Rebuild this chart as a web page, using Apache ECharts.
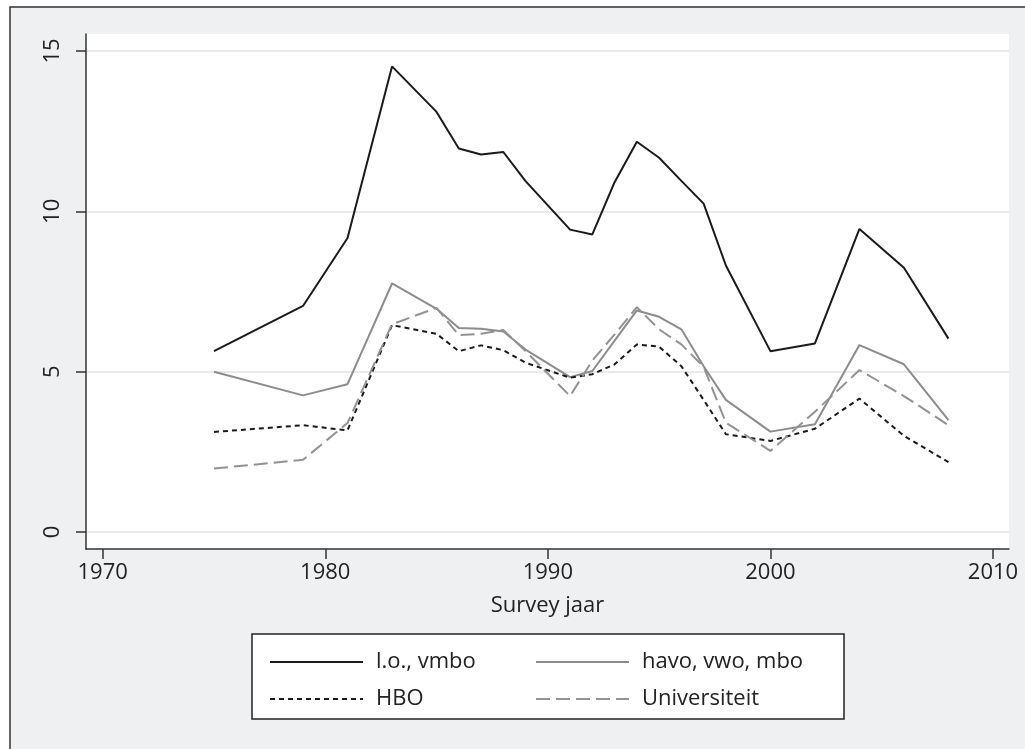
<!DOCTYPE html>
<html>
<head>
<meta charset="utf-8">
<script src="https://cdn.jsdelivr.net/npm/echarts@6/dist/echarts.min.js"></script>
<style>html,body{margin:0;padding:0;background:#fff;}#c{width:1025px;height:749px;}</style>
</head>
<body>
<div id="c"></div>
<script>
const years = [1975,1979,1981,1983,1985,1986,1987,1988,1989,1991,1992,1993,1994,1995,1996,1997,1998,2000,2002,2004,2006,2008];
const loVmbo = [5.64,7.05,9.17,14.52,13.10,11.96,11.77,11.85,10.94,9.43,9.28,10.91,12.17,11.67,10.95,10.24,8.31,5.64,5.88,9.45,8.24,6.03];
const havoVwoMbo = [5.00,4.26,4.61,7.75,6.96,6.36,6.34,6.25,5.69,4.83,5.02,5.97,6.91,6.71,6.32,5.17,4.12,3.13,3.36,5.83,5.23,3.49];
const hbo = [3.12,3.33,3.17,6.45,6.18,5.64,5.82,5.67,5.28,4.81,4.92,5.23,5.85,5.78,5.17,4.12,3.05,2.84,3.22,4.16,3.00,2.18];
const universiteit = [1.98,2.25,3.40,6.48,6.99,6.14,6.18,6.30,5.64,4.24,5.35,6.16,7.01,6.32,5.85,5.15,3.41,2.53,3.75,5.05,4.24,3.33];
const seriesNames = ['l.o., vmbo','havo, vwo, mbo','HBO','Universiteit'];
const xTicks = [1970,1980,1990,2000,2010];
const yTicks = [0,5,10,15];
const xTitle = 'Survey jaar';

const FONT = '"Open Sans", "Noto Sans", sans-serif';
const pair = arr => years.map((y,i)=>[y,arr[i]]);
const chart = echarts.init(document.getElementById('c'), null, {renderer:'canvas'});
const mk = (name, data, color, type) => ({
  name, type:'line', data: pair(data), symbol:'none', smooth:false,
  lineStyle:{color, width:2, type}, itemStyle:{color}, emphasis:{disabled:true}, z:3
});
const legendBase = {
  orient:'vertical', top:644, itemWidth:93, itemHeight:14, itemGap:11, selectedMode:false,
  itemStyle:{opacity:0},
  textStyle:{fontFamily:FONT, fontSize:22, color:'#222', lineHeight:26, padding:[0,0,0,8]}
};
chart.setOption({
  animation:false,
  backgroundColor:'#ffffff',
  graphic:[
    {type:'rect', shape:{x:10,y:7,width:1040,height:770}, style:{fill:'#eff0f2', stroke:'#333', lineWidth:1.5}, z:-10},
    {type:'rect', shape:{x:252,y:634,width:592,height:85}, style:{fill:'#ffffff', stroke:'#222', lineWidth:1.5}, z:-5}
  ],
  grid:{left:86, top:34, right:16, bottom:200, show:true, backgroundColor:'#ffffff', borderWidth:0},
  xAxis:{
    type:'value', min:1969.25, max:2010.72,
    name:xTitle, nameLocation:'middle', nameGap:46,
    nameTextStyle:{fontFamily:FONT, fontSize:22, color:'#222'},
    axisLine:{show:true, onZero:false, lineStyle:{color:'#333', width:1.5}},
    axisTick:{show:true, length:10, lineStyle:{color:'#333', width:1.5}, customValues:xTicks},
    axisLabel:{fontFamily:FONT, fontSize:22, color:'#222', margin:13, customValues:xTicks, formatter:v=>String(v)},
    splitLine:{show:false}
  },
  yAxis:{
    type:'value', min:-0.53, max:15.53,
    axisLine:{show:true, onZero:false, lineStyle:{color:'#333', width:1.5}},
    axisTick:{show:true, length:10, lineStyle:{color:'#333', width:1.5}, customValues:yTicks},
    axisLabel:{fontFamily:FONT, fontSize:22, color:'#222', margin:22, rotate:90, customValues:yTicks},
    splitLine:{show:true, lineStyle:{color:'#eaeaea', width:2}}
  },
  legend:[
    Object.assign({}, legendBase, {data:[seriesNames[0], seriesNames[2]], left:264}),
    Object.assign({}, legendBase, {data:[seriesNames[1], seriesNames[3]], left:530})
  ],
  series:[
    mk(seriesNames[0], loVmbo, '#1a1a1a', 'solid'),
    mk(seriesNames[1], havoVwoMbo, '#8c8c8c', 'solid'),
    mk(seriesNames[2], hbo, '#1a1a1a', [5,4]),
    mk(seriesNames[3], universiteit, '#929292', [14,6])
  ]
});
</script>
</body>
</html>
